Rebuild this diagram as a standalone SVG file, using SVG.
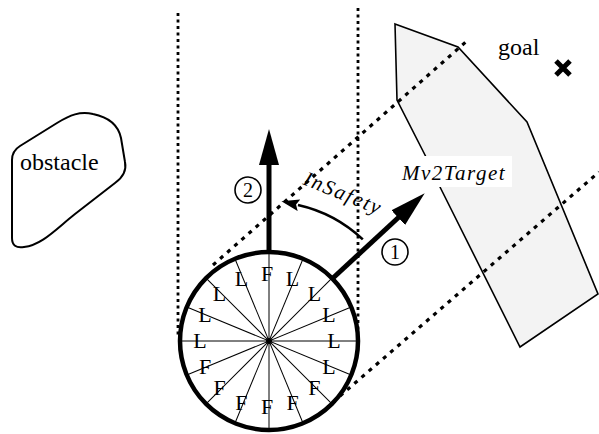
<svg xmlns="http://www.w3.org/2000/svg" width="599" height="434" viewBox="0 0 599 434">
<style>
.serif{font-family:"Liberation Serif","Times New Roman",serif;fill:#000}
.it{font-style:italic}
.dotv{stroke:#000;stroke-width:2.8;stroke-dasharray:3 3.5;fill:none}
.dotd{stroke:#000;stroke-width:3.2;stroke-dasharray:4 5.5;fill:none}
.lbl{font-size:22px;text-anchor:middle}
.spoke{stroke:#000;stroke-width:1}
</style>
<defs>
<marker id="bigHead" markerUnits="userSpaceOnUse" viewBox="0 0 36 20" refX="1" refY="10" markerWidth="36" markerHeight="20" orient="auto">
<path d="M0,0 L36,10 L0,20 Z" fill="#000"/>
</marker>
<marker id="smallHead" markerUnits="userSpaceOnUse" viewBox="0 0 18 12" refX="1" refY="6" markerWidth="18" markerHeight="12" orient="auto">
<path d="M0,0 L18,6 L0,12 L3,6 Z" fill="#000"/>
</marker>
</defs>
<rect width="599" height="434" fill="#fff"/>

<g id="goal-region">
<polygon points="395,24 458,47 527,122 598,294 520,347 440,187 425,155 397,100" fill="#f3f3f3" stroke="#000" stroke-width="1.6"/>
</g>

<g id="connectors">
<line class="dotv" x1="178" y1="13" x2="178" y2="336"/>
<line class="dotv" x1="358" y1="8" x2="358" y2="330"/>
<line class="dotd" x1="213" y1="265" x2="468" y2="40"/>
<line class="dotd" x1="340" y1="396" x2="599" y2="172"/>
<line x1="269" y1="252" x2="269" y2="164" stroke="#000" stroke-width="5" marker-end="url(#bigHead)"/>
<line x1="333" y1="278" x2="399" y2="217" stroke="#000" stroke-width="5" marker-end="url(#bigHead)"/>
<path d="M362.8,239.4 A139,139 0 0 0 298,205" fill="none" stroke="#000" stroke-width="2.6" marker-end="url(#smallHead)"/>
</g>

<g id="text-bg">
<rect x="398" y="156" width="114" height="31" fill="#fff"/>
</g>

<g id="obstacle">
<path d="M12,160 Q12,151 20,146 L57,123 C70,115 80,111 93,114 C108,117 118,124 121,138 L125,162 C127,172 122,178 115,183 L75,214 C56,229 42,245 24,247 Q12,249 12,238 Z" fill="none" stroke="#000" stroke-width="2"/>
<text class="serif" x="20" y="170" font-size="24">obstacle</text>
</g>

<g id="goal">
<text class="serif" x="498" y="55" font-size="24">goal</text>
<path d="M556,61 L570,75 M570,61 L556,75" stroke="#000" stroke-width="5"/>
</g>

<g id="robot">
<g class="spoke">
<line x1="180" y1="341" x2="358" y2="341"/>
<line x1="180" y1="341" x2="358" y2="341" transform="rotate(22.5 269 341)"/>
<line x1="180" y1="341" x2="358" y2="341" transform="rotate(45 269 341)"/>
<line x1="180" y1="341" x2="358" y2="341" transform="rotate(67.5 269 341)"/>
<line x1="180" y1="341" x2="358" y2="341" transform="rotate(90 269 341)"/>
<line x1="180" y1="341" x2="358" y2="341" transform="rotate(112.5 269 341)"/>
<line x1="180" y1="341" x2="358" y2="341" transform="rotate(135 269 341)"/>
<line x1="180" y1="341" x2="358" y2="341" transform="rotate(157.5 269 341)"/>
</g>
<circle cx="269" cy="341" r="3" fill="#000"/>
<circle cx="269" cy="341" r="89" fill="none" stroke="#000" stroke-width="4.5"/>
<g class="serif lbl">
<text x="267" y="281">F</text>
<text x="292.6" y="286">L</text>
<text x="314.4" y="300.6">L</text>
<text x="328.9" y="322.3">L</text>
<text x="334" y="348">L</text>
<text x="328.9" y="373.7">L</text>
<text x="314.4" y="395.4">F</text>
<text x="292.6" y="409.9">F</text>
<text x="267" y="414">F</text>
<text x="241.4" y="409.9">F</text>
<text x="219.6" y="395.4">F</text>
<text x="205.1" y="373.7">F</text>
<text x="200" y="348">L</text>
<text x="205.1" y="322.3">L</text>
<text x="219.6" y="300.6">L</text>
<text x="241.4" y="286">L</text>
</g>
</g>

<g id="label-2">
<circle cx="248" cy="190" r="13" fill="none" stroke="#000" stroke-width="1.6"/>
<text class="serif" x="248" y="197" font-size="20" text-anchor="middle">2</text>
</g>
<g id="label-1">
<circle cx="395" cy="252" r="13" fill="none" stroke="#000" stroke-width="1.6"/>
<text class="serif" x="395" y="259" font-size="20" text-anchor="middle">1</text>
</g>
<g id="label-insafety">
<text class="serif it" x="302" y="184" font-size="21" letter-spacing="1.8" transform="rotate(22 302 184)">InSafety</text>
</g>
<g id="label-mv2target">
<text class="serif it" x="402" y="180" font-size="21" letter-spacing="1.5">Mv2Target</text>
</g>
</svg>
